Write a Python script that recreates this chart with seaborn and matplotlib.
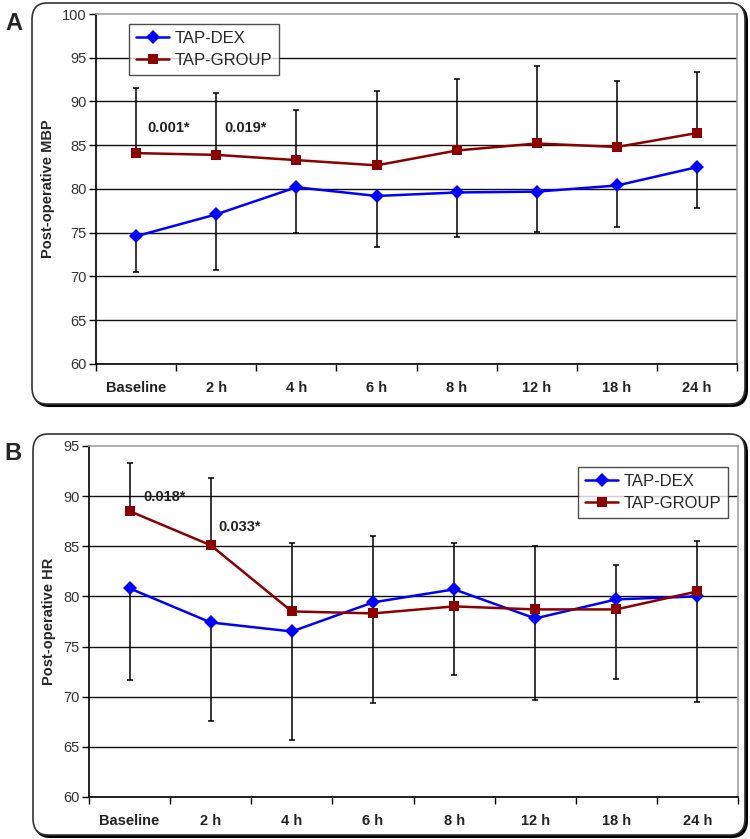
import numpy as np
import pandas as pd
import matplotlib
matplotlib.use("Agg")
import matplotlib.pyplot as plt
import seaborn as sns
from matplotlib.patches import FancyBboxPatch

sns.set_theme(style="white")
plt.rcParams["font.family"] = ["Liberation Sans", "DejaVu Sans"]

times = ["Baseline", "2 h", "4 h", "6 h", "8 h", "12 h", "18 h", "24 h"]

# panel A: mean arterial pressure
mbp_dex = [74.6, 77.1, 80.2, 79.2, 79.6, 79.7, 80.4, 82.5]
mbp_group = [84.1, 83.9, 83.3, 82.7, 84.4, 85.2, 84.8, 86.4]
mbp_dex_low = [70.5, 70.7, 75.0, 73.4, 74.5, 75.1, 75.6, 77.8]
mbp_group_high = [91.5, 91.0, 89.0, 91.2, 92.6, 94.1, 92.3, 93.4]
mbp_notes = [("0.001*", 0.14, 87.0), ("0.019*", 1.1, 87.0)]

# panel B: heart rate
hr_dex = [80.8, 77.4, 76.5, 79.4, 80.7, 77.8, 79.7, 80.0]
hr_group = [88.5, 85.1, 78.5, 78.3, 79.0, 78.7, 78.7, 80.5]
hr_dex_low = [71.7, 67.6, 65.7, 69.4, 72.2, 69.7, 71.8, 69.5]
hr_group_high = [93.3, 91.8, 85.3, 86.0, 85.3, 85.0, 83.1, 85.5]
hr_notes = [("0.018*", 0.17, 89.9), ("0.033*", 1.09, 86.9)]

BLUE = "#0000FF"
RED = "#8B0000"


def panel(fig, rect, dex, grp, dex_low, grp_high, notes, ylim, ylabel, legend_loc):
    ax = fig.add_axes(rect)
    x = np.arange(len(times))
    df = pd.DataFrame({
        "x": np.concatenate([x, x]),
        "value": dex + grp,
        "group": ["TAP-DEX"] * len(x) + ["TAP-GROUP"] * len(x),
    })
    # one-sided error bars: up for TAP-GROUP, down for TAP-DEX
    ax.errorbar(x, grp, yerr=[np.zeros(len(x)), np.array(grp_high) - np.array(grp)],
                fmt="none", ecolor="black", elinewidth=1.1, capsize=2.3, capthick=1.1, zorder=2)
    ax.errorbar(x, dex, yerr=[np.array(dex) - np.array(dex_low), np.zeros(len(x))],
                fmt="none", ecolor="black", elinewidth=1.1, capsize=2.3, capthick=1.1, zorder=2)
    sns.lineplot(data=df, x="x", y="value", hue="group", style="group",
                 palette={"TAP-DEX": BLUE, "TAP-GROUP": RED},
                 markers={"TAP-DEX": "D", "TAP-GROUP": "s"},
                 dashes=False, linewidth=1.8, markersize=7, markeredgewidth=0,
                 ax=ax, zorder=3)

    ax.set_xlim(-0.5, len(times) - 0.5)
    ax.set_ylim(*ylim)
    ax.set_yticks(np.arange(ylim[0], ylim[1] + 1, 5))
    ax.set_xticks(x)
    ax.set_xticklabels(times, fontweight="bold", fontsize=10.5)
    ax.set_xticks(np.arange(-0.5, len(times)), minor=True)
    ax.tick_params(axis="x", which="major", length=0, pad=12, colors="#222222")
    ax.tick_params(axis="x", which="minor", length=5, width=1, direction="out",
                   color="black", bottom=True)
    ax.tick_params(axis="y", length=5, width=1, direction="out", left=True,
                   labelsize=10.5, pad=2, colors="black", labelcolor="#333333")
    ax.set_xlabel("")
    ax.set_ylabel(ylabel, fontweight="bold", fontsize=10.5, labelpad=5)

    ax.grid(axis="y", color="#111111", linewidth=1.0)
    ax.grid(axis="x", visible=False)
    ax.get_ygridlines()[-1].set_visible(False)
    ax.set_axisbelow(True)
    for side in ["left", "bottom"]:
        ax.spines[side].set_color("black")
        ax.spines[side].set_linewidth(1.2)
    for side in ["top", "right"]:
        ax.spines[side].set_color("#A0A0A0")
        ax.spines[side].set_linewidth(1.2)

    for txt, tx, ty in notes:
        ax.text(tx, ty, txt, fontweight="bold", fontsize=10.5, color="#222222",
                ha="left", va="center", zorder=4)

    leg = ax.legend(loc="upper left", bbox_to_anchor=legend_loc, fontsize=12,
                    frameon=True, fancybox=False, edgecolor="#222222",
                    handlelength=2.0, handletextpad=0.3, borderpad=0.4,
                    labelspacing=0.45, borderaxespad=0)
    leg.get_frame().set_linewidth(1.0)
    leg.set_zorder(5)
    return ax


fig = plt.figure(figsize=(7.5, 8.39), dpi=100)

# rounded frames with a dark shadow on the lower right
W, H = 750, 839
for (x0, y0, x1, y1) in [(32, 3, 745, 404), (33, 434, 745, 835)]:
    shadow = FancyBboxPatch(((x0 + 2) / W, 1 - (y1 + 2) / H), (x1 - x0) / W, (y1 - y0) / H,
                            boxstyle="round,pad=0,rounding_size=0.02",
                            transform=fig.transFigure, facecolor="black",
                            edgecolor="black", linewidth=1.5, zorder=-3)
    frame = FancyBboxPatch((x0 / W, 1 - y1 / H), (x1 - x0) / W, (y1 - y0) / H,
                           boxstyle="round,pad=0,rounding_size=0.02",
                           transform=fig.transFigure, facecolor="white",
                           edgecolor="#333333", linewidth=1.2, zorder=-2)
    fig.patches.extend([shadow, frame])

panel(fig, [0.128, 0.5662, 0.855, 0.4171], mbp_dex, mbp_group, mbp_dex_low,
      mbp_group_high, mbp_notes, (60, 100), "Post-operative MBP", (0.052, 0.971))
panel(fig, [0.1187, 0.0501, 0.8653, 0.4184], hr_dex, hr_group, hr_dex_low,
      hr_group_high, hr_notes, (60, 95), "Post-operative HR", (0.754, 0.94))

fig.text(14 / 750, 1 - 24 / 839, "A", fontsize=17, fontweight="bold", ha="center", va="center")
fig.text(13 / 750, 1 - 454 / 839, "B", fontsize=17, fontweight="bold", ha="center", va="center")

fig.savefig("out.png", dpi=100)
